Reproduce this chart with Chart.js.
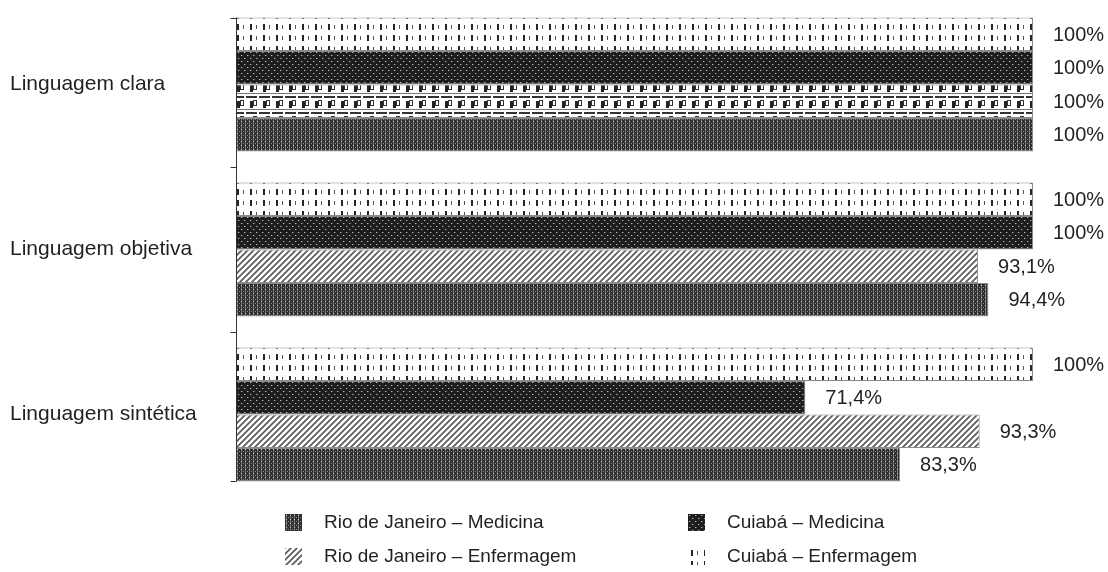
<!DOCTYPE html>
<html><head><meta charset="utf-8">
<script src="https://cdn.jsdelivr.net/npm/chart.js@4.4.1/dist/chart.umd.min.js"></script>
<style>
html,body{margin:0;padding:0;background:#fff;}
#wrap{position:relative;width:1108px;height:572px;}
#c{position:absolute;left:0;top:0;width:1108px;height:572px;}
#legend{position:absolute;left:0;top:0;width:1108px;height:572px;pointer-events:none;font-family:"Liberation Sans",Arial,sans-serif;font-size:19px;color:#231f20;}
.item{position:absolute;display:flex;align-items:center;height:24px;white-space:nowrap;}
.item canvas{margin-right:22px;display:block;}
</style></head><body>
<div id="wrap"><canvas id="c" width="1108" height="572"></canvas><div id="legend"></div></div>
<script>
// ---- data ----
const categories = ["Linguagem clara", "Linguagem objetiva", "Linguagem sintética"];
const seriesNames = ["Cuiabá – Enfermagem", "Cuiabá – Medicina", "Rio de Janeiro – Enfermagem", "Rio de Janeiro – Medicina"];
const cuiabaEnfermagem = [100, 100, 100];
const cuiabaMedicina = [100, 100, 71.4];
const rioEnfermagem = [100, 93.1, 93.3];
const rioMedicina = [100, 94.4, 83.3];
const legendOrder = ["Rio de Janeiro – Medicina", "Cuiabá – Medicina", "Rio de Janeiro – Enfermagem", "Cuiabá – Enfermagem"];

const FONT = '"Liberation Sans", Arial, sans-serif';
const TEXT = '#231f20';

// ---- patterns ----
function makePattern(w, h, draw) {
  const c = document.createElement('canvas');
  c.width = w; c.height = h;
  const g = c.getContext('2d');
  draw(g);
  return document.createElement('canvas').getContext('2d').createPattern(c, 'repeat');
}
const pDash = makePattern(13, 11, g => {
  g.fillStyle = '#fff'; g.fillRect(0, 0, 13, 11);
  g.fillStyle = '#262626'; g.fillRect(3, 2, 2, 6);
  g.fillStyle = '#555'; g.fillRect(9, 3, 1, 4);
});
const pDots = makePattern(6, 6, g => {
  g.fillStyle = '#1e1e1e'; g.fillRect(0, 0, 6, 6);
  g.fillStyle = '#b8b8b8'; g.fillRect(1, 1, 1, 1); g.fillRect(4, 4, 1, 1);
  g.fillStyle = '#555'; g.fillRect(2, 1, 1, 1); g.fillRect(5, 4, 1, 1);
});
const pHatch = makePattern(6, 6, g => {
  g.fillStyle = '#fff'; g.fillRect(0, 0, 6, 6);
  g.strokeStyle = '#5a5a5a'; g.lineWidth = 1.7;
  g.beginPath();
  g.moveTo(-1, 7); g.lineTo(7, -1);
  g.moveTo(-1, 1); g.lineTo(1, -1);
  g.moveTo(5, 7); g.lineTo(7, 5);
  g.stroke();
});
const pGrid = makePattern(4, 4, g => {
  g.fillStyle = '#2e2e2e'; g.fillRect(0, 0, 4, 4);
  g.fillStyle = '#6e6e6e'; g.fillRect(1, 0, 1, 4);
  g.fillStyle = '#d0d0d0'; g.fillRect(1, 1, 1, 1);
  g.fillStyle = '#8a8a8a'; g.fillRect(3, 3, 1, 1);
});
const pBox = makePattern(13, 16, g => {
  g.fillStyle = '#fff'; g.fillRect(0, 0, 13, 16);
  g.fillStyle = '#333'; g.fillRect(0, 0, 13, 2);
  g.fillStyle = '#fff'; g.fillRect(10, 0, 2, 2);
  g.fillStyle = '#222'; g.fillRect(3, 5, 3, 7);
  g.strokeStyle = '#333'; g.lineWidth = 1; g.strokeRect(6.5, 4.5, 3, 5);
  g.fillStyle = '#777'; g.fillRect(0, 13, 13, 1);
});

const seriesData = [cuiabaEnfermagem, cuiabaMedicina, rioEnfermagem, rioMedicina];
const seriesFill = [pDash, pDots, pHatch, pGrid];
const barFills = [pDash, pDots, [pBox, pHatch, pHatch], pGrid];

// ---- plugins ----
const fmt = v => (v === 100 ? '100' : v.toFixed(1).replace('.', ',')) + '%';
const valueLabels = {
  id: 'valueLabels',
  afterDatasetsDraw(chart) {
    const ctx = chart.ctx;
    ctx.save();
    ctx.font = '20px ' + FONT;
    ctx.fillStyle = TEXT;
    ctx.textAlign = 'left';
    ctx.textBaseline = 'middle';
    chart.data.datasets.forEach((ds, di) => {
      chart.getDatasetMeta(di).data.forEach((el, i) => {
        ctx.fillText(fmt(ds.data[i]), el.x + 20, el.y + 1);
      });
    });
    ctx.restore();
  }
};
const axisLine = {
  id: 'axisLine',
  afterDatasetsDraw(chart) {
    const ctx = chart.ctx;
    const first = chart.getDatasetMeta(0).data;
    const last = chart.getDatasetMeta(chart.data.datasets.length - 1).data;
    const tops = first.map(e => e.y - e.height / 2);
    const bots = last.map(e => e.y + e.height / 2);
    const x = chart.chartArea.left - 0.5;
    const ticks = [tops[0]];
    for (let i = 0; i < tops.length - 1; i++) ticks.push((bots[i] + tops[i + 1]) / 2);
    ticks.push(bots[bots.length - 1]);
    ctx.save();
    ctx.strokeStyle = '#333';
    ctx.lineWidth = 1;
    ctx.beginPath();
    ctx.moveTo(x, tops[0]); ctx.lineTo(x, bots[bots.length - 1]);
    ticks.forEach(t => { const y = Math.round(t) + 0.5; ctx.moveTo(x - 6, y); ctx.lineTo(x, y); });
    ctx.stroke();
    ctx.restore();
  }
};

new Chart(document.getElementById('c'), {
  type: 'bar',
  data: {
    labels: categories,
    datasets: seriesNames.map((n, i) => ({
      label: n,
      data: seriesData[i],
      backgroundColor: barFills[i],
      borderColor: '#8a8a8a',
      borderWidth: 1,
      borderSkipped: 'start',
      categoryPercentage: 0.812,
      barPercentage: 1
    }))
  },
  options: {
    indexAxis: 'y',
    responsive: false,
    animation: false,
    layout: { padding: { left: 10, right: 75, top: 2, bottom: 75 } },
    plugins: { legend: { display: false }, tooltip: { enabled: false } },
    scales: {
      x: { display: false, min: 0, max: 100 },
      y: {
        grid: { display: false },
        border: { display: false },
        ticks: { font: { family: FONT, size: 21 }, color: TEXT, crossAlign: 'far', padding: 0 },
        afterFit(s) { s.width = 227; s.paddingTop = 0; s.paddingBottom = 0; }
      }
    }
  },
  plugins: [valueLabels, axisLine]
});

// ---- legend (HTML) ----
const legend = document.getElementById('legend');
const pos = [[285, 510], [688, 510], [285, 544], [688, 544]];
legendOrder.forEach((name, k) => {
  const idx = seriesNames.indexOf(name);
  const item = document.createElement('div');
  item.className = 'item';
  item.style.left = pos[k][0] + 'px';
  item.style.top = pos[k][1] + 'px';
  const sw = document.createElement('canvas');
  sw.width = 17; sw.height = 17;
  const g = sw.getContext('2d');
  g.fillStyle = seriesFill[idx];
  g.fillRect(0, 0, 17, 17);
  item.appendChild(sw);
  const t = document.createElement('span');
  t.textContent = name;
  item.appendChild(t);
  legend.appendChild(item);
});
</script>
</body></html>
